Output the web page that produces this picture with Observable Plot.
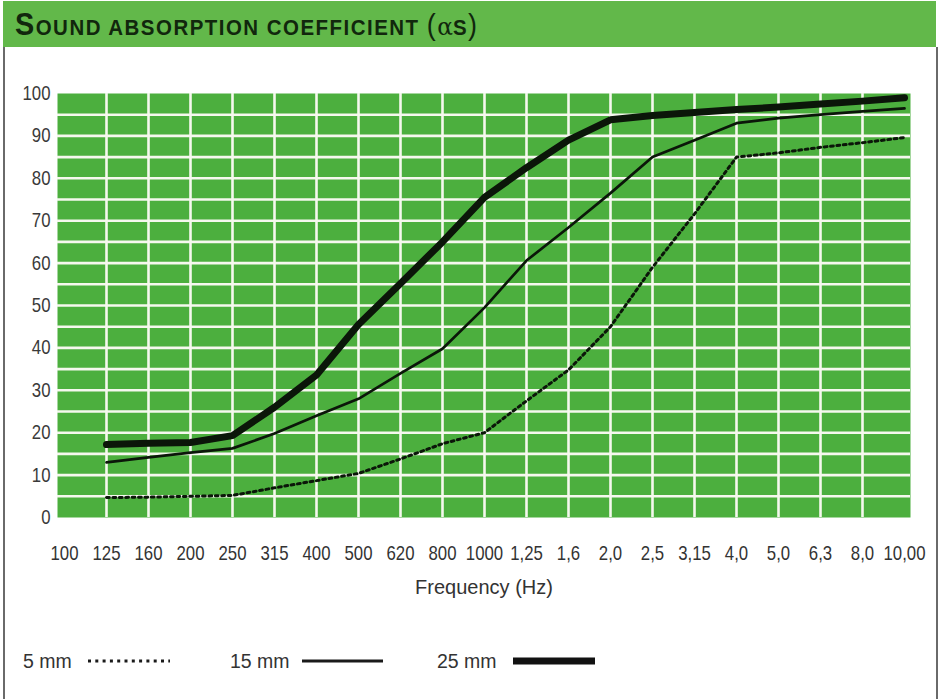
<!DOCTYPE html>
<html><head><meta charset="utf-8">
<script src="https://cdn.jsdelivr.net/npm/d3@7"></script>
<script src="https://cdn.jsdelivr.net/npm/@observablehq/plot@0.6"></script>
<style>
body{margin:0;background:#fff;}
#wrap{position:relative;width:941px;height:699px;overflow:hidden;font-family:"Liberation Sans",Arial,sans-serif;}
#title{position:absolute;left:3px;top:1px;width:933px;height:46px;background:#62b84a;}
#title .t{position:absolute;left:12px;top:8px;white-space:nowrap;color:#11270d;font-weight:bold;letter-spacing:1.6px;line-height:1;transform:scaleX(0.93);transform-origin:0 0;}
#frame{position:absolute;left:3px;top:47px;height:660px;border-left:2px solid #6a6a6a;border-right:2px solid #6a6a6a;box-sizing:border-box;width:935px;}
#chart{position:absolute;left:0;top:47px;}
.leg{position:absolute;top:650px;font-size:19.5px;line-height:22px;color:#333;white-space:nowrap;}
.sw{position:absolute;top:651px;}
</style></head>
<body>
<div id="wrap">
  <div id="title"><div class="t"><span style="font-size:31px">S</span><span style="font-size:22px">OUND ABSORPTION COEFFICIENT </span><span style="font-size:29px;font-weight:normal">(</span><span style="font-size:25px;font-weight:normal;font-family:'DejaVu Serif',serif;letter-spacing:0">α</span><span style="font-size:22px">S</span><span style="font-size:29px;font-weight:normal">)</span></div></div>
  <div id="frame"></div>
  <div id="chart"></div>
  <div class="leg" style="left:23px">5 mm</div>
  <svg class="sw" style="left:86px" width="90" height="20"><line x1="2" x2="84" y1="10" y2="10" stroke="#1a1a1a" stroke-width="3" stroke-dasharray="3 4.3"/></svg>
  <div class="leg" style="left:230px">15 mm</div>
  <svg class="sw" style="left:300px" width="90" height="20"><line x1="2" x2="83" y1="10" y2="10" stroke="#1a1a1a" stroke-width="3"/></svg>
  <div class="leg" style="left:437px">25 mm</div>
  <svg class="sw" style="left:511px" width="90" height="20"><line x1="2" x2="84" y1="10" y2="10" stroke="#111" stroke-width="7"/></svg>
</div>
<script>
const FONT = '"Liberation Sans",Arial,sans-serif';
const freqLabels = ["100","125","160","200","250","315","400","500","620","800","1000","1,25","1,6","2,0","2,5","3,15","4,0","5,0","6,3","8,0","10,00"];
const seriesFreqs = freqLabels.slice(1);
const mm5  = [4.7, 4.8, 5.0, 5.2, 7.0, 8.7, 10.4, 13.8, 17.4, 20, 27.5, 34.8, 45, 59, 71.6, 85, 86, 87.3, 88.4, 89.6];
const mm15 = [13, 14.2, 15.3, 16.3, 19.8, 24, 28, 34, 39.8, 49.5, 60.6, 68.4, 76.5, 85, 89, 93, 94.2, 95, 95.8, 96.5];
const mm25 = [17.2, 17.5, 17.7, 19.3, 26, 33.6, 45.5, 55.2, 65, 75.5, 82.5, 89, 93.8, 94.8, 95.5, 96.2, 96.8, 97.5, 98.2, 99];
const yTicks = [0,10,20,30,40,50,60,70,80,90,100];
const gridYVals = d3.range(5, 100, 5);
const xAxisLabel = "Frequency (Hz)";

const toRows = vals => seriesFreqs.map((f, i) => ({f, v: vals[i]}));
const gridStyle = {stroke: "#f5f8ee", strokeOpacity: 1, strokeWidth: 2.6};
const lineColor = "#0b1609";

const chart = Plot.plot({
  width: 941, height: 560,
  marginLeft: 57, marginRight: 31, marginTop: 46, marginBottom: 90,
  style: {fontFamily: FONT, fontSize: "20px", color: "#333", background: "transparent", overflow: "visible"},
  x: {type: "point", domain: freqLabels, padding: 0, label: null},
  y: {domain: [0, 100], label: null},
  marks: [
    Plot.frame({fill: "#4caf3e", stroke: "none"}),
    Plot.gridX(freqLabels.slice(1, -1), gridStyle),
    Plot.gridY(gridYVals, gridStyle),
    Plot.axisY(yTicks, {tickSize: 0, tickPadding: 7, label: null, fontSize: 20, fill: "#3a3a3a"}),
    Plot.axisX({tickSize: 0, tickPadding: 28, label: null, fontSize: 20, fill: "#333"}),
    Plot.text([xAxisLabel], {frameAnchor: "bottom", dy: 76, fontSize: 20, fill: "#333"}),
    Plot.line(toRows(mm5), {x: "f", y: "v", stroke: lineColor, strokeWidth: 3, strokeDasharray: "2.8 3.6"}),
    Plot.line(toRows(mm15), {x: "f", y: "v", stroke: lineColor, strokeWidth: 2.7, strokeLinejoin: "round"}),
    Plot.line(toRows(mm25), {x: "f", y: "v", stroke: lineColor, strokeWidth: 7, strokeLinejoin: "round"})
  ]
});
// condense tick labels horizontally (Helvetica Condensed look), about each label's own anchor
const S = 0.84;
chart.querySelectorAll("text").forEach(t => {
  if (t.textContent === xAxisLabel) return;
  const X = parseFloat(t.getAttribute("x") || 0);
  const tr = t.getAttribute("transform") || "";
  t.setAttribute("transform", `${tr} translate(${X},0) scale(${S},1) translate(${-X},0)`);
});
document.getElementById("chart").appendChild(chart);
</script>
</body></html>
